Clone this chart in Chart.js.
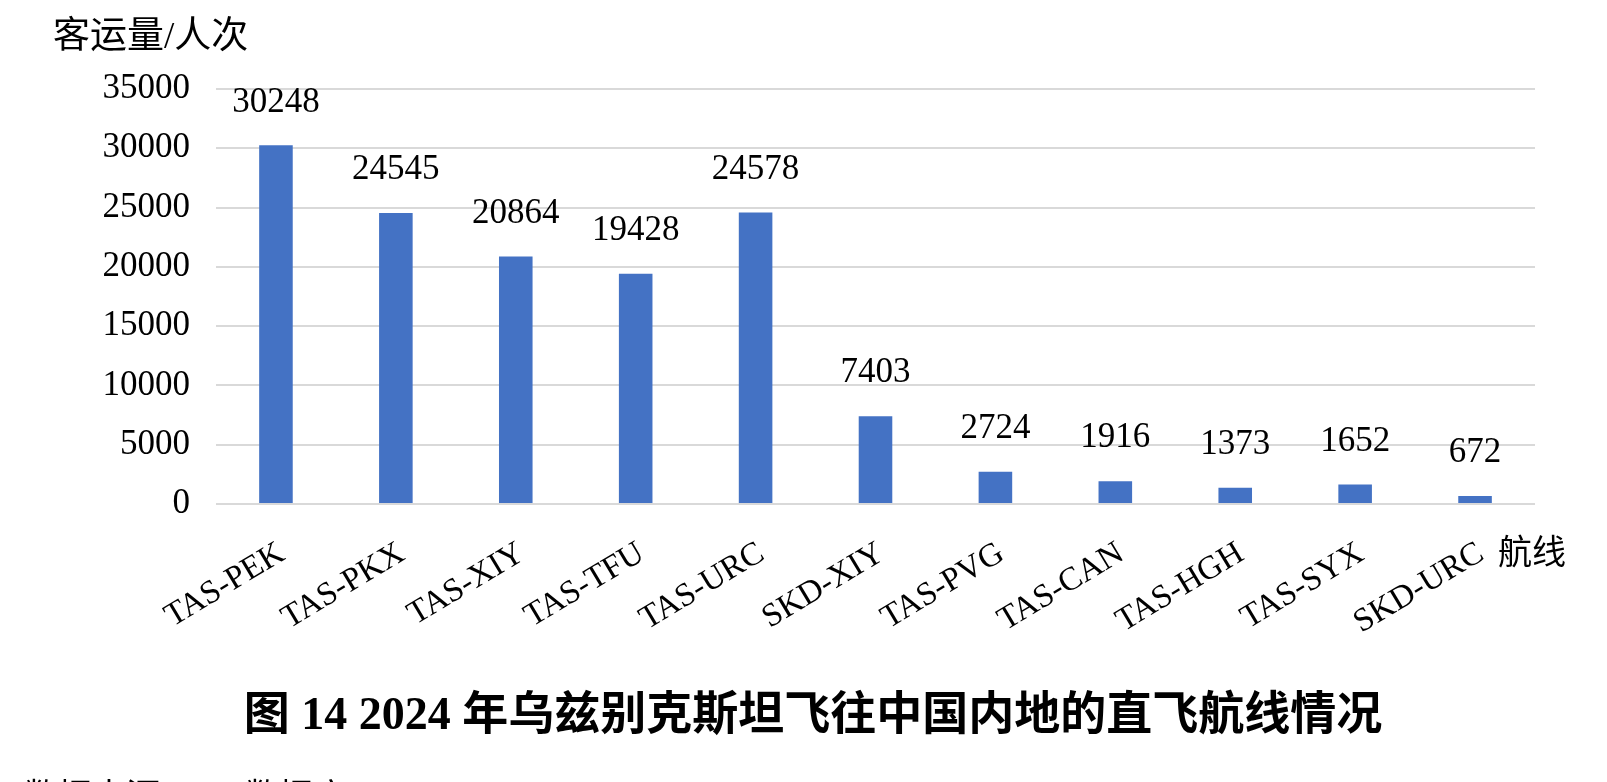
<!DOCTYPE html>
<html lang="zh">
<head>
    <meta charset="UTF-8">
    <title>2024年乌兹别克斯坦飞往中国内地的直飞航线情况</title>
    <script src="https://cdn.jsdelivr.net/npm/chart.js"></script>
    <style>
        html, body { margin: 0; padding: 0; background: #fff; overflow: hidden; }
        #wrap { position: relative; width: 1607px; height: 782px; overflow: hidden; }
        .txt { position: absolute; white-space: nowrap; color: #000;
               font-family: 'Liberation Serif', 'Noto Sans CJK SC', serif; }
        #ytitle { left: 53px; top: 15px; font-size: 37px; line-height: 42px; }
        #xtitle { left: 1498px; top: 533px; font-size: 34px; line-height: 40px; }
        #caption { left: 0; width: 1626px; text-align: center; top: 688px; font-size: 46px;
                   line-height: 52px; font-weight: bold; }
        #source1 { left: 24px; top: 780px; font-size: 34px; line-height: 34px; }
        #source2 { left: 245px; top: 780px; font-size: 34px; line-height: 34px; }
    </style>
</head>
<body>
<div id="wrap">
    <canvas id="routeChart" width="1607" height="782"></canvas>
    <div class="txt" id="ytitle">客运量/人次</div>
    <div class="txt" id="xtitle">航线</div>
    <div class="txt" id="caption">图 14 2024 年乌兹别克斯坦飞往中国内地的直飞航线情况</div>
    <div class="txt" id="source1">数据来源：</div>
    <div class="txt" id="source2">数据库</div>
</div>
<script>
    const routes = ['TAS-PEK', 'TAS-PKX', 'TAS-XIY', 'TAS-TFU', 'TAS-URC', 'SKD-XIY',
                    'TAS-PVG', 'TAS-CAN', 'TAS-HGH', 'TAS-SYX', 'SKD-URC'];
    const passengers = [30248, 24545, 20864, 19428, 24578, 7403, 2724, 1916, 1373, 1652, 672];
    const yTicks = [0, 5000, 10000, 15000, 20000, 25000, 30000, 35000];

    // value labels above each bar
    const barLabels = {
        id: 'barLabels',
        afterDatasetsDraw(chart) {
            const ctx = chart.ctx;
            const meta = chart.getDatasetMeta(0);
            ctx.save();
            ctx.font = '35px "Liberation Serif"';
            ctx.fillStyle = '#000';
            ctx.textAlign = 'center';
            ctx.textBaseline = 'middle';
            meta.data.forEach((bar, i) => {
                ctx.fillText(String(passengers[i]), bar.x, bar.y - 43);
            });
            ctx.restore();
        }
    };

    new Chart(document.getElementById('routeChart').getContext('2d'), {
        type: 'bar',
        data: {
            labels: routes,
            datasets: [{
                data: passengers,
                backgroundColor: '#4472C4',
                barPercentage: 0.28,
                categoryPercentage: 1
            }]
        },
        options: {
            responsive: false,
            animation: false,
            layout: { autoPadding: false, padding: { left: 0, right: 72, top: 89, bottom: 0 } },
            plugins: { legend: { display: false }, tooltip: { enabled: false } },
            scales: {
                x: {
                    grid: { display: false },
                    border: { display: false },
                    ticks: {
                        color: '#000',
                        font: { family: 'Liberation Serif', size: 33 },
                        minRotation: 31,
                        maxRotation: 31,
                        autoSkip: false,
                        padding: 22,
                        labelOffset: 6
                    },
                    afterFit(scale) { scale.height = 278; }
                },
                y: {
                    min: 0,
                    max: 35000,
                    afterBuildTicks(scale) { scale.ticks = yTicks.map(v => ({ value: v })); },
                    grid: { color: '#d9d9d9', lineWidth: 2, drawTicks: false },
                    border: { display: false },
                    ticks: {
                        color: '#000',
                        font: { family: 'Liberation Serif', size: 35 },
                        padding: 26,
                        callback: v => String(v)
                    },
                    afterFit(scale) { scale.width = 216; }
                }
            }
        },
        plugins: [barLabels]
    });
</script>
</body>
</html>
